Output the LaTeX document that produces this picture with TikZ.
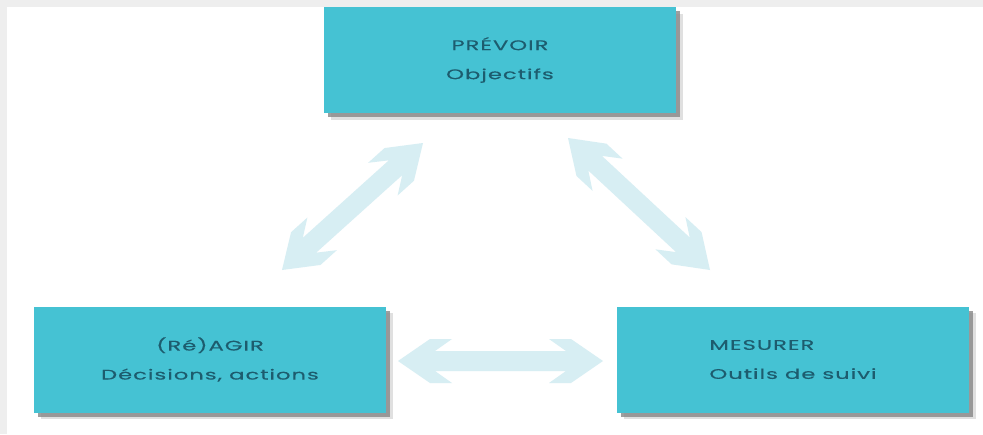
\documentclass[tikz,border=0pt]{standalone}
\usepackage{fontspec}
\setmainfont{Poppins}[FakeStretch=1.62, LetterSpace=7, FakeBold=0.3]
\usetikzlibrary{calc,shadows}

\definecolor{boxfill}{HTML}{45C2D3}
\definecolor{boxtext}{HTML}{1D5C6E}
\definecolor{arrowfill}{HTML}{D7EEF3}
\definecolor{framegray}{HTML}{EEEEEE}

\tikzset{
  stage/.style={
    rectangle, fill=boxfill, draw=none,
    minimum width=352pt, minimum height=106pt,
    text=boxtext, align=center,
    font=\fontsize{14}{29}\selectfont,
    general shadow={shadow xshift=6.5pt, shadow yshift=-6.5pt, fill=black, opacity=.12},
    drop shadow={shadow xshift=4pt, shadow yshift=-4pt, fill=black!50, opacity=.75}
  },
  flow/.style={fill=arrowfill, draw=none}
}

% broad double-headed arrow with chevron heads between two named points
\newcommand{\twowayarrow}[2]{%
  \fill[flow]
    (#1)
    -- ($(#1)!32pt!(#2)!22pt!90:(#2)$)
    -- ($(#1)!54pt!(#2)!22pt!90:(#2)$)
    -- ($(#1)!37pt!(#2)!10pt!90:(#2)$)
    -- ($(#2)!37pt!(#1)!10pt!-90:(#1)$)
    -- ($(#2)!54pt!(#1)!22pt!-90:(#1)$)
    -- ($(#2)!32pt!(#1)!22pt!-90:(#1)$)
    -- (#2)
    -- ($(#2)!32pt!(#1)!22pt!90:(#1)$)
    -- ($(#2)!54pt!(#1)!22pt!90:(#1)$)
    -- ($(#2)!37pt!(#1)!10pt!90:(#1)$)
    -- ($(#1)!37pt!(#2)!10pt!-90:(#2)$)
    -- ($(#1)!54pt!(#2)!22pt!-90:(#2)$)
    -- ($(#1)!32pt!(#2)!22pt!-90:(#2)$)
    -- cycle;}

\begin{document}
\begin{tikzpicture}[x=1pt,y=-1pt]
  \useasboundingbox (0,0) rectangle (983,434);
  % page with a light frame along the top and left edges
  \fill[framegray] (0,0) rectangle (983,434);
  \fill[white] (7,7) rectangle (983,434);

  % the three stages
  \node[stage] (prevoir) at (500,60) {PRÉVOIR\\Objectifs};
  \node[stage] (agir) at (210,359.5) {(Ré)AGIR\\Décisions, actions};
  \node[stage, align=left] (mesurer) at (793,359.5) {MESURER\\Outils de suivi};

  % arrow end points
  \coordinate (la) at (282,270);
  \coordinate (lb) at (423,143);
  \coordinate (ra) at (568,138);
  \coordinate (rb) at (710,270);
  \coordinate (ha) at (398,361);
  \coordinate (hb) at (603,361);

  \twowayarrow{la}{lb}
  \twowayarrow{ra}{rb}
  \twowayarrow{ha}{hb}
\end{tikzpicture}
\end{document}
